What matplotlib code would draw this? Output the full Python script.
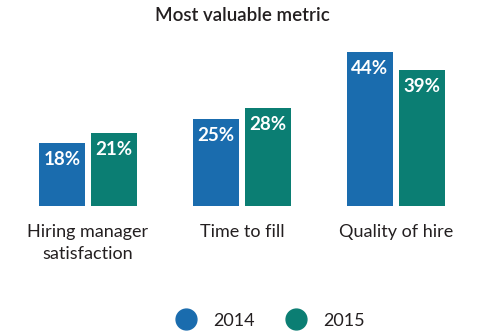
import matplotlib.pyplot as plt
from matplotlib.lines import Line2D
import numpy as np

plt.rcParams['font.family'] = ['Lato', 'DejaVu Sans']

categories = ["Hiring manager\nsatisfaction", "Time to fill", "Quality of hire"]
years = ["2014", "2015"]
values_2014 = [18, 25, 44]
values_2015 = [21, 28, 39]
colors = ["#1a6cae", "#0b7e73"]

fig = plt.figure(figsize=(4.98, 3.35), dpi=100)
ax = fig.add_axes([0, 0.385, 1, 0.615])

x = np.arange(len(categories))
w = 0.30
off = 0.169

bars1 = ax.bar(x - off, values_2014, w, color=colors[0])
bars2 = ax.bar(x + off, values_2015, w, color=colors[1])

for bars in (bars1, bars2):
    for b in bars:
        h = b.get_height()
        ax.text(b.get_x() + b.get_width() / 2, h - 4.8, f"{h:.0f}%",
                ha="center", va="center", color="white",
                fontsize=13.5, fontweight="bold")

ax.set_xlim(-0.571, 2.662)
ax.set_ylim(0, 58.86)
ax.set_xticks(x)
ax.set_xticklabels(categories, fontsize=13, color="#231f20", linespacing=1.45)
ax.tick_params(axis="x", length=0, pad=13)
ax.set_yticks([])
for s in ax.spines.values():
    s.set_visible(False)

fig.text(0.486, 0.955, "Most valuable metric", ha="center", va="center",
         fontsize=13.5, fontweight="semibold", color="#231f20")

handles = [Line2D([], [], marker="o", linestyle="none", markersize=15,
                  markerfacecolor=c, markeredgecolor=c) for c in colors]
fig.legend(handles, years, loc="center", bbox_to_anchor=(0.535, 0.043),
           ncol=2, frameon=False, fontsize=13, handletextpad=0.5,
           columnspacing=1.3, labelcolor="#231f20")

fig.savefig("out.png", dpi=100)
